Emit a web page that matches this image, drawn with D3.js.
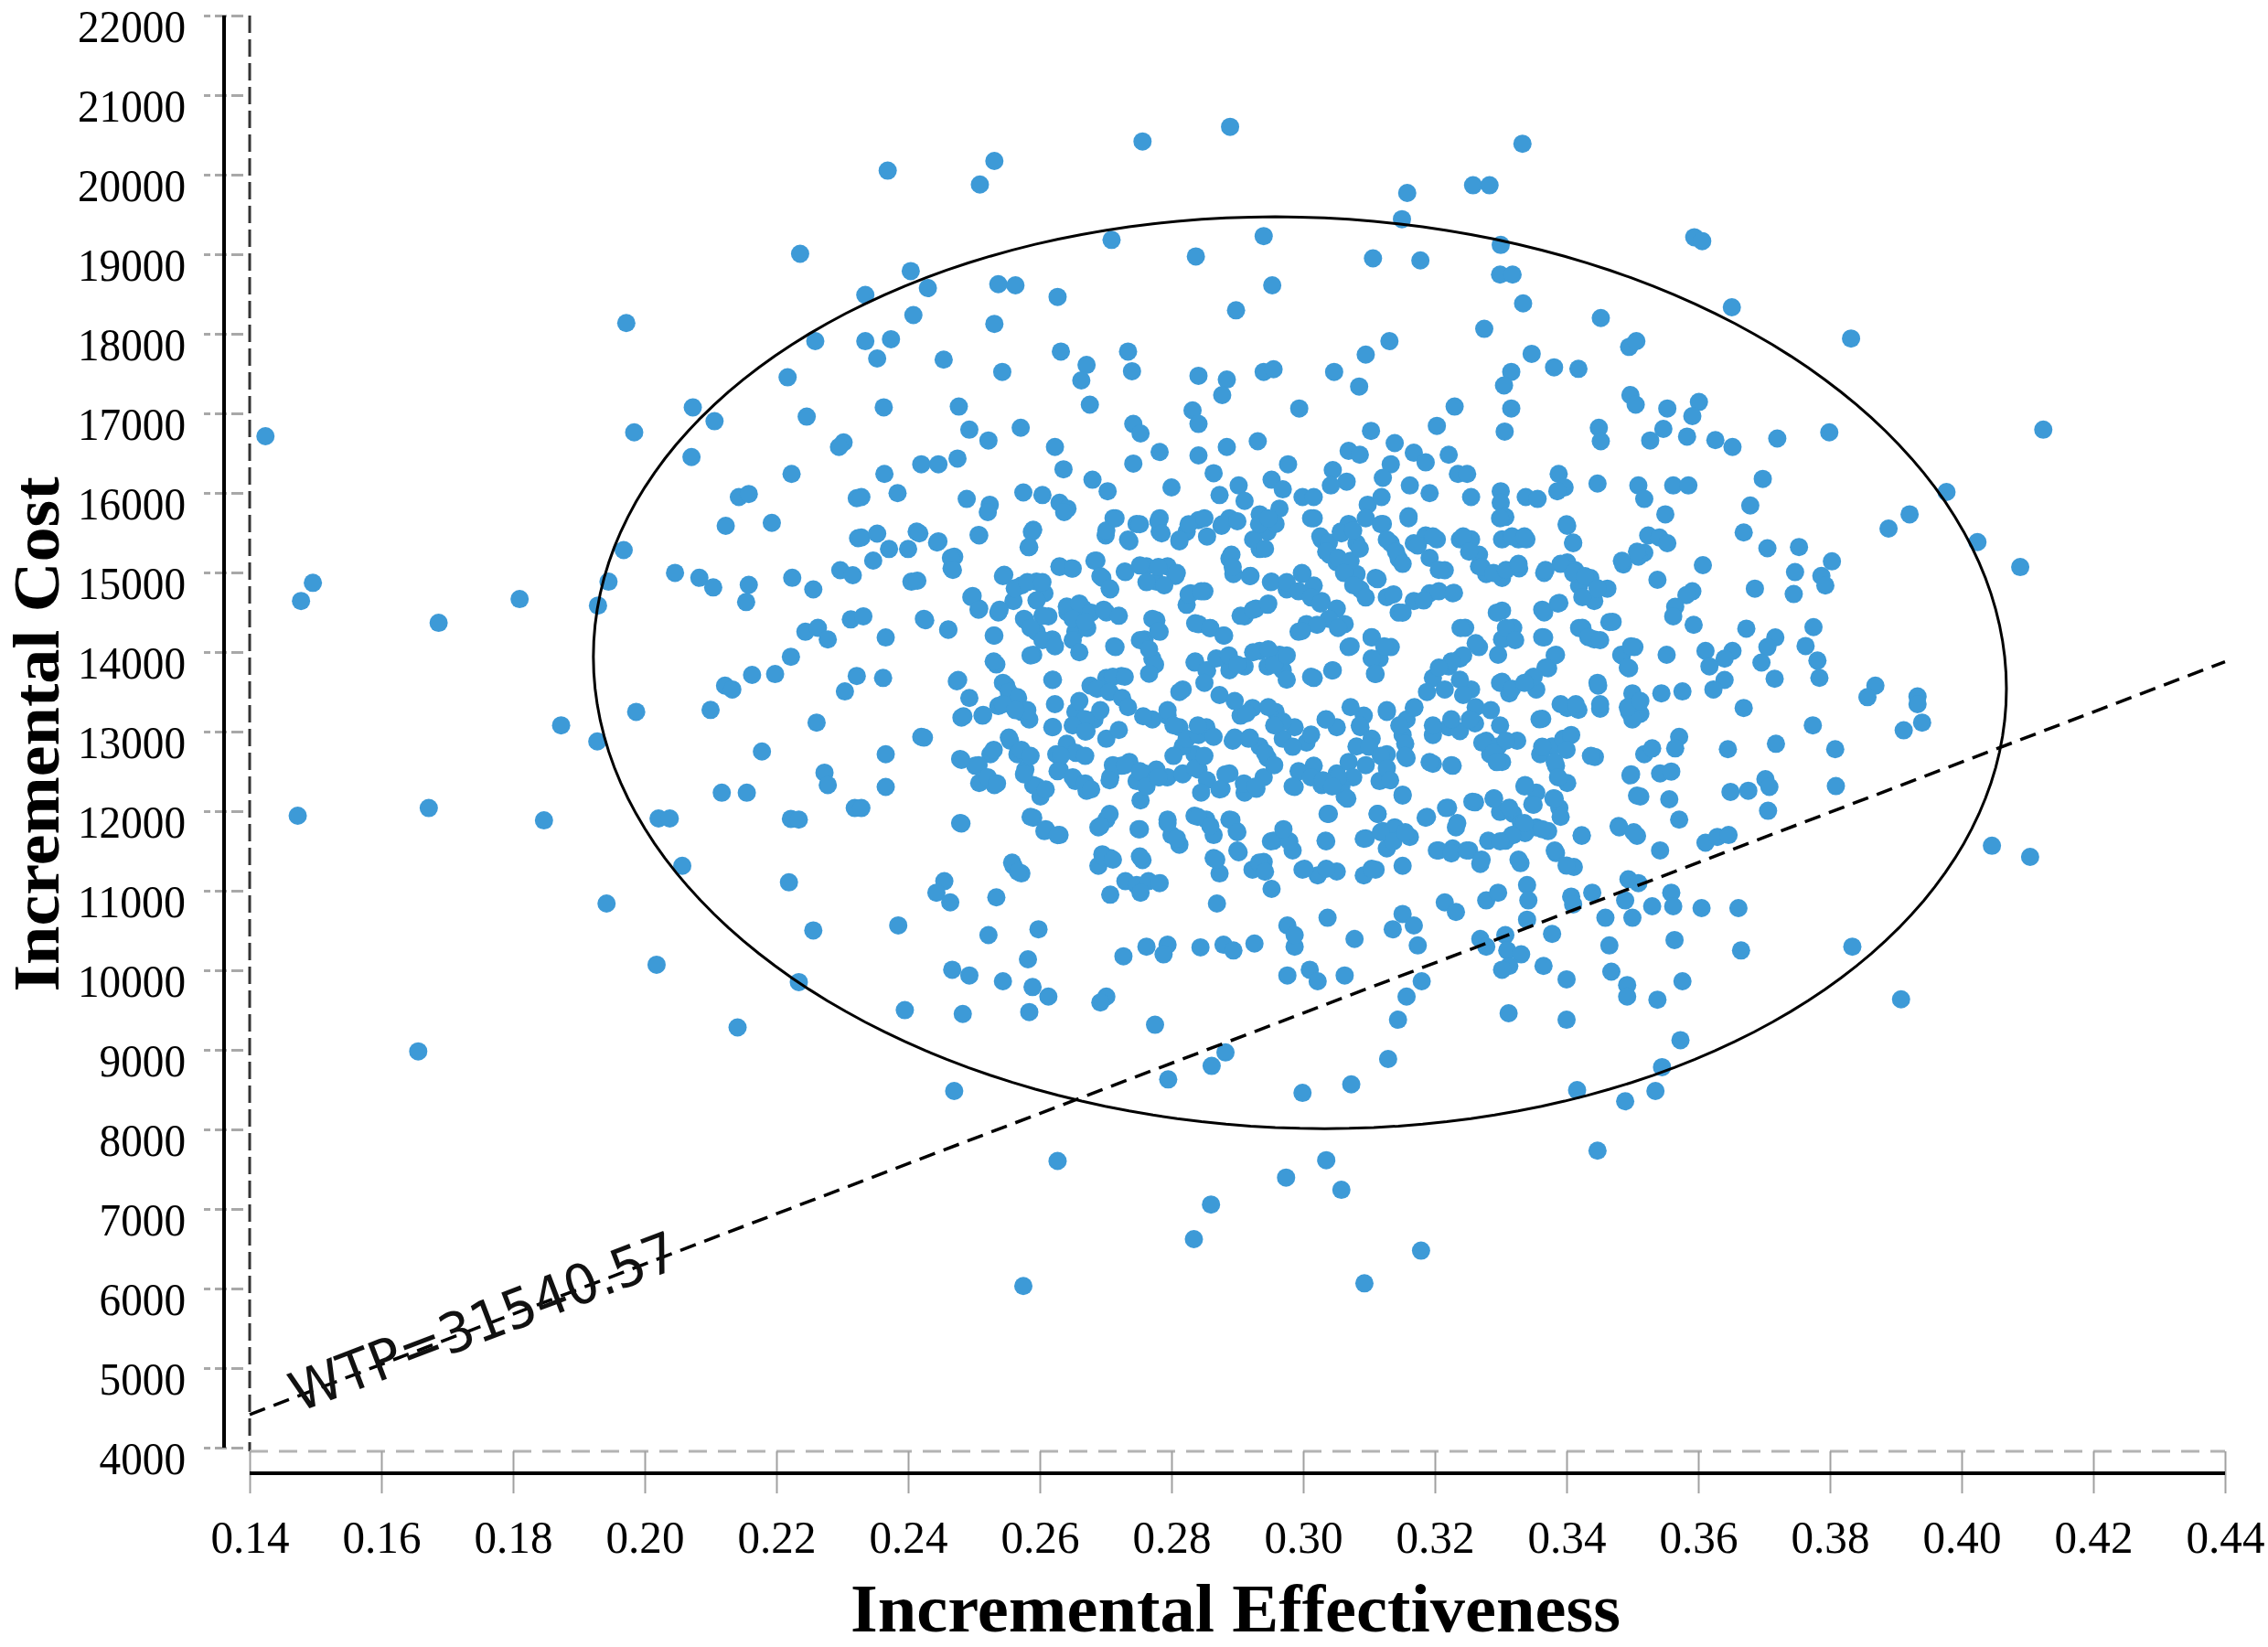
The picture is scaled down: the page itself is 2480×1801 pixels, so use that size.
<!DOCTYPE html>
<html><head><meta charset="utf-8">
<script src="https://cdn.jsdelivr.net/npm/d3@7/dist/d3.min.js"></script>
<style>html,body{margin:0;padding:0;background:#fff;}svg{display:block;}</style>
</head><body>
<svg id="chart" width="2480" height="1801"></svg>
<script>
// ---------- data ----------
const xTickValues = [0.14,0.16,0.18,0.20,0.22,0.24,0.26,0.28,0.30,0.32,0.34,0.36,0.38,0.40,0.42,0.44];
const yTickValues = [4000,5000,6000,7000,8000,9000,10000,11000,12000,13000,14000,15000,16000,17000,18000,19000,20000,21000,22000];
const xTitle = "Incremental Effectiveness";
const yTitle = "Incremental Cost";
const wtpValue = 31540.57;
const wtpLabel = "WTP=31540.57";
const wtpLabelAt = 0.1757;
const ellipseCenter = [0.2995, 13740];
const ellipseRadii = [0.1073, 5730];
const ellipseRho = -0.035;

const pointsLeft = [[0.1424,16713],[0.1496,14870],[0.1478,14642],[0.1687,14367],[0.1810,14666],[0.1972,18135],[0.1984,16761],[0.2236,19006],[0.2259,17908],[0.2217,17453],[0.2073,17075],[0.2106,16901],[0.2246,16959],[0.2302,16635],[0.2295,16577],[0.2071,16451],[0.2223,16239],[0.2143,15948],[0.2158,15987],[0.2123,15586],[0.2193,15624],[0.2322,15934],[0.2324,15431],[0.1968,15281],[0.1945,14884],[0.1929,14584],[0.2046,14995],[0.2083,14933],[0.2104,14812],[0.2158,14845],[0.2154,14628],[0.2224,14933],[0.2256,14787],[0.2297,15029],[0.2316,14966],[0.2313,14410],[0.2244,14255],[0.2263,14304],[0.2278,14158],[0.2222,13941],[0.2163,13713],[0.2198,13723],[0.2122,13578],[0.2133,13530],[0.2304,13505],[0.2322,13699],
[0.1473,11942],[0.1672,12039],[0.1656,8981],[0.1873,13079],[0.1928,12876],[0.1987,13248],[0.2100,13272],[0.2261,13113],[0.2178,12750],[0.2273,12484],[0.2278,12329],[0.2117,12232],[0.2155,12232],[0.2319,12039],[0.1847,11884],[0.2021,11908],[0.2038,11908],[0.2222,11903],[0.2234,11894],[0.2057,11313],[0.1942,10839],[0.2219,11105],[0.2256,10501],[0.2018,10070],[0.2234,9852],[0.2141,9281]];

const pointsUpperMid = [[0.2369,20051],[0.2531,20172],[0.2509,19876],[0.2756,20418],[0.2889,20602],[0.3158,19770],[0.3150,19441],[0.2709,19180],[0.2940,19228],[0.2837,18972],[0.3106,18948],[0.3178,18923],[0.2404,18788],[0.2430,18575],[0.2335,18488],[0.2537,18623],[0.2563,18609],[0.2627,18464],[0.2953,18609],[0.2898,18295],[0.2408,18236],[0.2531,18125],[0.2335,17907],[0.2374,17932],[0.2353,17690],[0.2454,17675],[0.2543,17521],[0.2632,17777],[0.2671,17608],[0.2663,17414],[0.2734,17777],[0.2740,17530],[0.2676,17109],[0.2841,17472],[0.2884,17424],[0.2877,17230],[0.2940,17521],[0.2955,17555],[0.3047,17521],[0.3095,17738],[0.3131,17908],[0.3085,17337],[0.2994,17061],[0.2363,17076],[0.2477,17085],[0.2493,16795],[0.2522,16659],[0.2571,16819],[0.2623,16577],[0.2636,16297],[0.2742,16867],[0.2753,16747],[0.2742,16369],[0.2782,16514],[0.2832,17037],[0.2841,16867],[0.2841,16471],[0.2884,16577],[0.2931,16650],[0.2977,16360],[0.3103,16780],[0.3139,16626],[0.3203,16843],[0.3230,17085],[0.3069,16529],[0.3086,16480],[0.3168,16505],[0.3186,16384],[0.3045,16287],[0.3066,16142],[0.3133,16360],[0.3121,16190],[0.3221,16480],[0.3235,16239],[0.3192,15997],[0.3162,16094],[0.3098,15852],[0.3119,15948],[0.3042,16094],[0.2952,16166],[0.2969,16045],[0.2999,15948],[0.3016,15948],[0.3016,15682],[0.3160,15707],[0.2420,16360],[0.2446,16360],[0.2475,16432],[0.2364,16239],[0.2384,15997],[0.2329,15948],[0.2489,15924],[0.2524,15852],[0.2575,16006],[0.2604,15973],[0.2630,15876],[0.2642,15803],[0.2680,16166],[0.2703,16021],[0.2800,16069],[0.2864,16248],[0.2873,15973],[0.2902,16094],[0.2911,15900],[0.2712,15682],[0.2700,15465],[0.2747,15610],[0.2736,15392],[0.2782,15682],[0.2782,15513],[0.2823,15513],[0.2841,15658],[0.2812,15392],[0.2876,15586],[0.2888,15682],[0.2934,15731],[0.2946,15513],[0.2934,15295],[0.2964,15803],[0.2958,15610],[0.3028,15416],[0.3040,15223],[0.3057,15513],[0.3069,15610],[0.3081,15368],[0.3051,15126],[0.3081,14981],[0.3087,14787],[0.3121,15610],[0.3133,15368],[0.3145,15174],[0.3168,15368],[0.3186,15465],[0.3203,15416],[0.3215,15029],[0.3238,15416],[0.2329,15440],[0.2353,15489],[0.2371,15295],[0.2347,15150],[0.2400,15295],[0.2413,15513],[0.2446,15392],[0.2470,15198],[0.2466,15053],[0.2508,15465],[0.2590,15537],[0.2584,15319],[0.2405,14884],[0.2332,14449],[0.2426,14400],[0.2461,14279],[0.2366,14183],[0.2546,14971],[0.2630,15077],[0.2648,15053],[0.2686,15150],[0.2695,14932],[0.2707,14787],[0.2730,15005],[0.2762,15077],[0.2777,14884],[0.2794,15077],[0.2806,14957],[0.2829,14739],[0.2850,14763],[0.2823,14594],[0.2888,15174],[0.2894,14981],[0.2920,14957],[0.2952,14884],[0.2975,14787],[0.2999,14981],[0.3016,14836],[0.3028,14642],[0.3051,14545],[0.3063,14352],[0.3110,14932],[0.3127,14691],[0.3145,14497],[0.3168,14642],[0.3192,14739],[0.3227,14739],[0.2496,14691],[0.2508,14545],[0.2537,14497],[0.2560,14642],[0.2572,14836],[0.2595,14884],[0.2607,14739],[0.2578,14400],[0.2595,14255],[0.2590,13965],[0.2613,14449],[0.2619,14159],[0.2642,14497],[0.2654,14255],[0.2666,14545],[0.2672,14303],[0.2701,14497],[0.2715,14062],[0.2759,14159],[0.2777,14400],[0.2771,13917],[0.2782,14255],[0.2531,14207],[0.2534,13844],[0.2841,14352],[0.2858,14303],[0.2879,14207],[0.2911,14449],[0.2928,14545],[0.2946,14594],[0.2993,14255],[0.3005,14352],[0.3069,14062],[0.3104,14183],[0.3133,14062],[0.3116,13917],[0.3221,13820],[0.3238,13917],[0.2835,13868],[0.2853,13771],[0.2882,13917],[0.2888,13771],[0.2911,13820],[0.2934,14014],[0.2946,13820],[0.2964,13965],[0.2969,13771],[0.3016,13674],[0.3045,13771],[0.3110,13723],[0.3197,13674],[0.3215,13530],[0.2476,13650],[0.2619,13650],[0.2362,13674],[0.2677,13578],[0.2701,13674],[0.2724,13699],[0.2817,13530],[0.2549,13578],[0.2566,13433]];

const pointsUpperRight = [[0.3333,20389],[0.3258,19867],[0.3283,19867],[0.3594,19214],[0.3606,19165],[0.3300,19117],[0.3299,18744],[0.3318,18744],[0.3334,18382],[0.3452,18198],[0.3275,18062],[0.3651,18333],[0.3832,17941],[0.3495,17835],[0.3506,17908],[0.3347,17748],[0.3381,17579],[0.3418,17559],[0.3316,17521],[0.3305,17351],[0.3316,17061],[0.3306,16771],[0.3497,17230],[0.3505,17109],[0.3553,17061],[0.3547,16804],[0.3601,17143],[0.3591,16965],[0.3527,16659],[0.3583,16708],[0.3626,16664],[0.3652,16577],[0.3720,16684],[0.3799,16761],[0.4124,16795],[0.3449,16819],[0.3452,16650],[0.3249,16239],[0.3255,15948],[0.3300,16021],[0.3300,15876],[0.3307,15697],[0.3338,15948],[0.3356,15924],[0.3388,16239],[0.3397,16069],[0.3386,16021],[0.3447,16118],[0.3509,16094],[0.3518,15924],[0.3562,16094],[0.3585,16094],[0.3698,16176],[0.3679,15842],[0.3550,15731],[0.3669,15503],[0.3977,16011],[0.3921,15731],[0.3889,15552],[0.4024,15382],[0.4089,15068],[0.3705,15305],[0.3753,15320],[0.3803,15140],[0.3747,15005],[0.3745,14729],[0.3787,14957],[0.3793,14836],[0.3686,14797],[0.3775,14313],[0.3763,14076],[0.3781,13893],[0.3784,13675],[0.3716,13665],[0.3673,14294],[0.3717,14183],[0.3705,14062],[0.3696,13868],[0.3652,14014],[0.3640,13917],[0.3611,14014],[0.3617,13820],[0.3640,13650],[0.3623,13530],[0.3607,15092],[0.3591,14763],[0.3582,14715],[0.3565,14569],[0.3562,14449],[0.3593,14342],[0.3552,13965],[0.3538,14908],[0.3486,15102],[0.3524,15465],[0.3541,15440],[0.3553,15368],[0.3518,15247],[0.3509,15198],[0.3465,14376],[0.3483,13965],[0.3495,13796],[0.3503,14062],[0.3448,13578],[0.3424,14304],[0.3442,14159],[0.3401,15586],[0.3410,15368],[0.3401,15126],[0.3413,15029],[0.3419,14836],[0.3436,14932],[0.3442,14642],[0.3424,14691],[0.3462,14797],[0.3366,14995],[0.3328,15053],[0.3302,14932],[0.3278,14981],[0.3267,15078],[0.3302,15416],[0.3327,15416],[0.3339,15416],[0.3255,15416],[0.3267,15223],[0.3389,14618],[0.3366,14497],[0.3302,14521],[0.3319,14304],[0.3302,14159],[0.3296,13965],[0.3267,14062],[0.3366,14183],[0.3384,13965],[0.3372,13796],[0.3348,13674],[0.3354,13530],[0.3302,13626],[0.3313,13481],[0.3246,14304],[0.3255,13530],[0.3500,13481],[0.3544,13481],[0.3576,13505],[0.3869,13578],[0.3857,13433],[0.3933,13442]];

const pointsLowerMid = [[0.2420,12934],[0.2366,12716],[0.2366,12305],[0.2329,12039],[0.2481,13176],[0.2513,13200],[0.2481,12644],[0.2502,12571],[0.2525,12716],[0.2508,12353],[0.2531,12329],[0.2555,12885],[0.2566,12716],[0.2578,12523],[0.2590,12329],[0.2601,12184],[0.2537,13321],[0.2572,13248],[0.2584,13152],[0.2619,13055],[0.2625,12716],[0.2630,12523],[0.2654,12378],[0.2671,12257],[0.2654,13248],[0.2671,13007],[0.2683,13152],[0.2701,12910],[0.2707,12426],[0.2724,12571],[0.2736,12619],[0.2747,12378],[0.2759,12474],[0.2753,12136],[0.2777,12523],[0.2794,12426],[0.2817,12474],[0.2841,12523],[0.2835,12716],[0.2817,12813],[0.2771,13152],[0.2794,13200],[0.2812,13055],[0.2823,12910],[0.2841,12958],[0.2853,13055],[0.2864,12934],[0.2876,12281],[0.2888,12474],[0.2905,13200],[0.2923,13297],[0.2893,12885],[0.2917,12910],[0.2934,12813],[0.2946,12668],[0.2940,12426],[0.2929,12281],[0.2911,12233],[0.2969,12910],[0.2987,13055],[0.3005,12862],[0.3016,12571],[0.2987,12305],[0.2958,13248],[0.2969,13127],[0.3028,12329],[0.3051,12474],[0.3069,12619],[0.3081,12813],[0.3087,13055],[0.3092,13200],[0.3104,12910],[0.3063,12184],[0.3034,13152],[0.3051,13055],[0.3127,13248],[0.3157,13152],[0.3168,13297],[0.3127,12716],[0.3151,12958],[0.3157,12668],[0.3197,12958],[0.3221,13055],[0.3238,13007],[0.3197,12595],[0.3227,12571],[0.3116,12378],[0.3151,12208],[0.2481,11845],[0.2590,11918],[0.2607,11749],[0.2630,11700],[0.2701,11894],[0.2689,11797],[0.2752,11773],[0.2794,11894],[0.2800,11700],[0.2812,11579],[0.2835,11942],[0.2853,11894],[0.2864,11700],[0.2888,11894],[0.2899,11749],[0.2955,11628],[0.2984,11507],[0.3037,11966],[0.3113,11966],[0.3034,11628],[0.3092,11652],[0.3121,11749],[0.3139,11797],[0.3162,11676],[0.3127,11531],[0.3186,11918],[0.3217,12039],[0.3232,11797],[0.3203,11507],[0.3227,11531],[0.3151,11313],[0.3110,11265],[0.3092,11192],[0.2999,11265],[0.3022,11192],[0.3051,11241],[0.2952,11023],[0.2902,11483],[0.2923,11265],[0.2940,11362],[0.2864,11410],[0.2873,11217],[0.2869,10839],[0.2695,11458],[0.2689,11313],[0.2707,11410],[0.2756,11386],[0.2730,11120],[0.2747,11071],[0.2765,11120],[0.2782,11096],[0.2753,10975],[0.2707,10950],[0.2560,11313],[0.2572,11217],[0.2455,11120],[0.2443,10975],[0.2464,10854],[0.2534,10917],[0.2385,10564],[0.2522,10442],[0.2598,10515],[0.2582,10138],[0.2467,10007],[0.2493,9935],[0.2544,9862],[0.2589,9789],[0.2613,9669],[0.2584,9475],[0.2395,9499],[0.2483,9451],[0.2701,9669],[0.2692,9596],[0.2727,10176],[0.2762,10297],[0.2794,10321],[0.2788,10200],[0.2844,10288],[0.2879,10321],[0.2894,10249],[0.2926,10336],[0.2976,10563],[0.2987,10297],[0.2987,10442],[0.3037,10660],[0.3078,10394],[0.2976,9935],[0.3010,10007],[0.3022,9862],[0.3063,9935],[0.3151,10708],[0.3168,10563],[0.3136,10515],[0.3174,10312],[0.3215,10854],[0.3232,10733],[0.3180,9862],[0.3157,9669],[0.3144,9378],[0.3129,8885],[0.2775,9315],[0.2882,8967],[0.2861,8798],[0.2795,8628],[0.2470,8483],[0.2999,8459],[0.3073,8566],[0.2627,7603],[0.3035,7613],[0.2974,7395],[0.3058,7240],[0.2860,7056],[0.2834,6621],[0.3179,6476],[0.2575,6031],[0.3093,6065]];

const pointsLowerRight = [[0.3363,13161],[0.3401,13297],[0.3418,13273],[0.3451,13287],[0.3495,13248],[0.3512,13224],[0.3500,13152],[0.3669,13297],[0.3774,13079],[0.3912,13016],[0.3940,13113],[0.3933,13345],[0.3645,12779],[0.3718,12847],[0.3808,12779],[0.3809,12315],[0.3261,13103],[0.3278,12885],[0.3296,12813],[0.3302,12619],[0.3284,12716],[0.3272,12861],[0.3325,12885],[0.3360,12716],[0.3378,12813],[0.3395,12910],[0.3407,12958],[0.3384,12571],[0.3443,12682],[0.3497,12450],[0.3518,12716],[0.3530,12789],[0.3571,12934],[0.3565,12789],[0.3542,12474],[0.3559,12498],[0.3401,12353],[0.3512,12184],[0.3556,12150],[0.3571,11894],[0.3649,12242],[0.3676,12257],[0.3702,12402],[0.3708,12305],[0.3706,12005],[0.3337,12329],[0.3354,12233],[0.3348,12087],[0.3380,12160],[0.3389,12039],[0.3261,12111],[0.3290,12160],[0.3299,11990],[0.3319,11966],[0.3331,11845],[0.3354,11797],[0.3372,11749],[0.3319,11700],[0.3307,11628],[0.3337,11724],[0.3281,11628],[0.3252,11507],[0.3269,11337],[0.3330,11347],[0.3384,11473],[0.3411,11299],[0.3423,11690],[0.3480,11797],[0.3507,11690],[0.3542,11507],[0.3611,11603],[0.3629,11676],[0.3646,11700],[0.4046,11565],[0.4104,11425],[0.3278,10878],[0.3296,10975],[0.3340,11071],[0.3342,10878],[0.3340,10636],[0.3407,10926],[0.3410,10829],[0.3439,10975],[0.3494,11144],[0.3509,11096],[0.3489,10878],[0.3459,10660],[0.3500,10660],[0.3530,10805],[0.3559,10975],[0.3562,10805],[0.3605,10781],[0.3661,10781],[0.3269,10394],[0.3278,10297],[0.3307,10442],[0.3310,10249],[0.3331,10200],[0.3313,10055],[0.3302,10007],[0.3378,10457],[0.3365,10055],[0.3400,9886],[0.3465,10312],[0.3468,9983],[0.3492,9814],[0.3492,9669],[0.3538,9630],[0.3576,9862],[0.3564,10380],[0.3665,10249],[0.3834,10297],[0.3908,9635],[0.3312,9460],[0.3400,9378],[0.3573,9122],[0.3545,8783],[0.3416,8493],[0.3535,8483],[0.3489,8353],[0.3447,7733]];

const pointsCoreWest = [[0.2521,15759],[0.2637,15759],[0.2417,15491],[0.2444,15376],[0.2507,15472],[0.2588,15510],[0.2583,15318],[0.2701,15529],[0.2715,15682],[0.2734,15414],[0.2752,15606],[0.2780,15644],[0.2785,15491],[0.2812,15414],[0.2826,15606],[0.2850,15682],[0.2854,15452],[0.2877,15606],[0.2900,15644],[0.2924,15414],[0.2933,15606],[0.2947,15682],[0.2465,15184],[0.2468,15031],[0.2544,14954],[0.2630,15069],[0.2650,15050],[0.2683,15146],[0.2692,14954],[0.2706,14801],[0.2729,15012],[0.2752,15088],[0.2762,14878],[0.2780,15069],[0.2789,14839],[0.2808,14993],[0.2826,14725],[0.2845,14763],[0.2891,15223],[0.2893,15069],[0.2919,14954],[0.2942,15299],[0.2951,14878],[0.2414,14897],[0.2498,14705],[0.2507,14533],[0.2539,14533],[0.2562,14801],[0.2581,14878],[0.2604,14878],[0.2576,14418],[0.2595,14648],[0.2604,14456],[0.2641,14571],[0.2660,14610],[0.2678,14495],[0.2697,14533],[0.2720,14456],[0.2650,14418],[0.2669,14380],[0.2771,14418],[0.2780,14265],[0.2836,14361],[0.2859,14303],[0.2880,14207],[0.2905,14456],[0.2924,14533],[0.2947,14610],[0.2424,14418],[0.2461,14284],[0.2530,14207],[0.2586,14303],[0.2586,13958],[0.2604,14150],[0.2623,14073],[0.2650,14150],[0.2660,13997],[0.2713,14073],[0.2752,14150],[0.2766,14035],[0.2775,13843],[0.2766,13728],[0.2530,13882],[0.2836,13882],[0.2854,13767],[0.2868,13920],[0.2887,13958],[0.2900,13843],[0.2924,13997],[0.2947,14035],[0.2956,13843],[0.2474,13633],[0.2620,13652],[0.2544,13613],[0.2711,13690],[0.2729,13690],[0.2553,13498],[0.2567,13422],[0.2581,13269],[0.2544,13345],[0.2563,13269],[0.2493,13422],[0.2484,13192],[0.2514,13211],[0.2623,13345],[0.2620,13058],[0.2660,13384],[0.2669,13154],[0.2687,13537],[0.2706,13498],[0.2725,13422],[0.2692,13269],[0.2734,13307],[0.2757,13192],[0.2794,13269],[0.2812,13498],[0.2803,13077],[0.2850,13613],[0.2873,13460],[0.2896,13384],[0.2914,13230],[0.2947,13307],[0.2956,13077],[0.2840,13077],[0.2720,13020],[0.2650,13077],[0.2669,13000],[0.2424,12924],[0.2553,12924],[0.2572,12771],[0.2586,12694],[0.2530,12771],[0.2479,12656],[0.2507,12579],[0.2521,12426],[0.2535,12349],[0.2576,12464],[0.2595,12311],[0.2609,12273],[0.2641,12847],[0.2655,12732],[0.2632,12694],[0.2669,12694],[0.2627,12502],[0.2650,12426],[0.2669,12349],[0.2678,12273],[0.2711,12579],[0.2729,12579],[0.2706,12388],[0.2752,12502],[0.2762,12311],[0.2780,12426],[0.2803,12694],[0.2817,12464],[0.2836,12541],[0.2850,12694],[0.2854,12388],[0.2845,12234],[0.2896,12924],[0.2919,12924],[0.2882,12464],[0.2873,12273],[0.2910,12349],[0.2928,12311],[0.2942,12732],[0.2956,12579],[0.2479,11851],[0.2586,11928],[0.2609,11774],[0.2627,11698],[0.2706,11966],[0.2692,11813],[0.2750,11774],[0.2794,11851],[0.2808,11659],[0.2840,11928],[0.2859,11813],[0.2891,11889],[0.2900,11736],[0.2951,11621],[0.2697,11430],[0.2711,11391],[0.2752,11430],[0.2558,11353],[0.2567,11238],[0.2868,11391],[0.2900,11506],[0.2933,11353],[0.2942,11238]];

const pointsCoreEast = [[0.3012,15682],[0.3026,15453],[0.3039,15376],[0.3058,15491],[0.3076,15529],[0.3035,15261],[0.3053,15184],[0.3072,15146],[0.3086,15299],[0.3095,15682],[0.3118,15606],[0.3127,15414],[0.3141,15261],[0.3151,15108],[0.3160,15682],[0.3174,15338],[0.3197,15453],[0.3192,15184],[0.3206,15031],[0.3243,15453],[0.3252,15261],[0.3271,15069],[0.3289,14993],[0.3308,15031],[0.3299,15682],[0.3317,15453],[0.3336,15453],[0.3327,15108],[0.3400,15606],[0.3410,15376],[0.3391,15108],[0.3410,14993],[0.3428,14954],[0.3447,14801],[0.3484,15146],[0.3507,15261],[0.3368,15031],[0.2975,14878],[0.2998,14993],[0.2993,14763],[0.3012,14686],[0.3026,14610],[0.3039,14418],[0.3053,14303],[0.3072,14073],[0.3021,14342],[0.2998,14265],[0.3062,14993],[0.3076,14840],[0.3095,14686],[0.3113,14916],[0.3137,14725],[0.3151,14495],[0.3183,14648],[0.3206,14763],[0.3229,14744],[0.3104,14188],[0.3123,14073],[0.3104,13920],[0.3109,13728],[0.3012,13690],[0.3044,13767],[0.2975,13958],[0.2975,13652],[0.3239,14303],[0.3294,14495],[0.3308,14303],[0.3322,14150],[0.3262,14112],[0.3243,13958],[0.3225,13882],[0.3206,13805],[0.3363,14533],[0.3387,14610],[0.3419,14303],[0.3433,14188],[0.3451,14150],[0.3470,14380],[0.3363,14188],[0.3382,13958],[0.3368,13805],[0.3350,13690],[0.3484,13958],[0.3498,14073],[0.3493,13805],[0.3447,13613],[0.3451,13345],[0.3391,13345],[0.3414,13345],[0.3359,13154],[0.3493,13307],[0.3512,13384],[0.3299,13613],[0.3317,13537],[0.3336,13613],[0.3238,13652],[0.3243,13460],[0.3262,13307],[0.3285,13269],[0.3299,13077],[0.3308,12886],[0.3289,12732],[0.3294,12617],[0.3188,13498],[0.3169,13307],[0.3197,13077],[0.3225,13154],[0.3253,13154],[0.3127,13269],[0.3146,13077],[0.3155,12847],[0.3155,12694],[0.3072,13307],[0.3086,13077],[0.3100,12809],[0.3095,12579],[0.3076,12426],[0.3058,12311],[0.3067,12157],[0.3053,12426],[0.3118,12694],[0.3127,12541],[0.3132,12388],[0.3035,13154],[0.3012,12962],[0.2984,12809],[0.2993,12502],[0.3012,12426],[0.3030,12388],[0.3044,12311],[0.2984,12311],[0.3192,12617],[0.3225,12579],[0.3363,12809],[0.3382,12617],[0.3400,12771],[0.3387,12426],[0.3437,12694],[0.3498,12464],[0.3507,12196],[0.3151,12196],[0.3113,11966],[0.3039,11966],[0.3188,11928],[0.3220,12043],[0.3234,11851],[0.3257,12119],[0.3289,12157],[0.3313,12043],[0.3336,12311],[0.3350,12081],[0.3363,11774],[0.3336,11851],[0.3317,11698],[0.3299,11621],[0.3382,12157],[0.3391,11928],[0.3423,11698],[0.3479,11813],[0.3502,11736],[0.2979,11621],[0.2970,11774],[0.3035,11621],[0.3095,11659],[0.3118,11736],[0.3137,11621],[0.3155,11736],[0.3206,11506],[0.3225,11468],[0.3248,11506],[0.3271,11391],[0.3327,11391],[0.3382,11506],[0.3400,11315],[0.3002,11276],[0.3035,11276],[0.3104,11276]];

const points = [].concat(pointsLeft, pointsUpperMid, pointsUpperRight, pointsLowerMid, pointsLowerRight, pointsCoreWest, pointsCoreEast);

// ---------- chart ----------
const svg = d3.select("#chart");
const x = d3.scaleLinear().domain([0.14, 0.44]).range([273, 2433]);
const y = d3.scaleLinear().domain([4000, 22000]).range([1583, 17]);
const serif = "'Liberation Serif','Times New Roman',serif";

// vertical dashed line at x = 0.14
svg.append("line")
  .attr("x1", x(0.14)).attr("x2", x(0.14))
  .attr("y1", y(22000)).attr("y2", y(4000) + 4)
  .attr("stroke", "#333").attr("stroke-width", 3).attr("stroke-dasharray", "19,7");

// gray dashed baseline
svg.append("line")
  .attr("x1", x(0.14)).attr("x2", x(0.44))
  .attr("y1", y(4000) + 4).attr("y2", y(4000) + 4)
  .attr("stroke", "#b3b3b3").attr("stroke-width", 3).attr("stroke-dasharray", "20,12");

// x axis: labels + gray ticks
const xAxis = d3.axisBottom(x).tickValues(xTickValues).tickFormat(d3.format(".2f"))
  .tickSizeInner(46).tickSizeOuter(0).tickPadding(29);
const gx = svg.append("g").attr("transform", `translate(0,${y(4000) + 4})`).call(xAxis);
gx.select(".domain").remove();
gx.selectAll(".tick line").attr("stroke", "#a0a0a0").attr("stroke-width", 2);
gx.selectAll(".tick text").attr("font-family", serif).attr("font-size", 50).attr("fill", "#000")
  .attr("textLength", 86).attr("lengthAdjust", "spacingAndGlyphs");

// solid x axis line
svg.append("line")
  .attr("x1", x(0.14)).attr("x2", x(0.44))
  .attr("y1", 1611).attr("y2", 1611)
  .attr("stroke", "#000").attr("stroke-width", 4);

// y axis: labels + gray dashed ticks
const yAxis = d3.axisLeft(y).tickValues(yTickValues).tickFormat(d3.format("d"))
  .tickSizeInner(43).tickSizeOuter(0).tickPadding(20);
const gy = svg.append("g").attr("transform", `translate(266,0)`).call(yAxis);
gy.select(".domain").remove();
gy.selectAll(".tick line").attr("stroke", "#a8a8a8").attr("stroke-width", 3).attr("stroke-dasharray", "13,5");
gy.selectAll(".tick text").attr("font-family", serif).attr("font-size", 50).attr("fill", "#000")
  .attr("dy", "0.56em")
  .attr("textLength", d => String(d).length * 23.6).attr("lengthAdjust", "spacingAndGlyphs");

// solid y axis line
svg.append("line")
  .attr("x1", 245).attr("x2", 245)
  .attr("y1", y(22000)).attr("y2", y(4000))
  .attr("stroke", "#000").attr("stroke-width", 4);

// scatter points
svg.append("g").selectAll("circle").data(points).join("circle")
  .attr("cx", d => x(d[0])).attr("cy", d => y(d[1])).attr("r", 10)
  .attr("fill", "#3d9ad7");

// confidence ellipse
const tSteps = d3.range(0, 361, 2).map(a => a * Math.PI / 180);
const ellipsePts = tSteps.map(t => [
  ellipseCenter[0] + ellipseRadii[0] * Math.cos(t),
  ellipseCenter[1] + ellipseRadii[1] * (ellipseRho * Math.cos(t) + Math.sqrt(1 - ellipseRho * ellipseRho) * Math.sin(t))
]);
svg.append("path")
  .attr("d", d3.line().x(d => x(d[0])).y(d => y(d[1])).curve(d3.curveLinearClosed)(ellipsePts))
  .attr("fill", "none").attr("stroke", "#000").attr("stroke-width", 3);

// WTP line
const wtpPts = [[0.14, 0.14 * wtpValue], [0.44, 0.44 * wtpValue]];
svg.append("path")
  .attr("d", d3.line().x(d => x(d[0])).y(d => y(d[1]))(wtpPts))
  .attr("fill", "none").attr("stroke", "#000").attr("stroke-width", 3.5).attr("stroke-dasharray", "18,10");

const ang = Math.atan2(y(wtpPts[1][1]) - y(wtpPts[0][1]), x(wtpPts[1][0]) - x(wtpPts[0][0])) * 180 / Math.PI;
const lx = x(wtpLabelAt), ly = y(wtpLabelAt * wtpValue);
svg.append("text")
  .attr("transform", `translate(${lx},${ly}) rotate(${ang})`)
  .attr("text-anchor", "middle").attr("dominant-baseline", "central").attr("dy", -4)
  .attr("font-family", "'DejaVu Sans','Liberation Sans',sans-serif").attr("font-size", 60)
  .attr("textLength", 448).attr("lengthAdjust", "spacingAndGlyphs")
  .attr("fill", "#111")
  .text(wtpLabel);

// titles
svg.append("text")
  .attr("x", 1351).attr("y", 1784).attr("text-anchor", "middle")
  .attr("font-family", serif).attr("font-weight", "bold").attr("font-size", 75)
  .attr("textLength", 842).attr("lengthAdjust", "spacingAndGlyphs")
  .text(xTitle);

svg.append("text")
  .attr("transform", "translate(64,803) rotate(-90)").attr("text-anchor", "middle")
  .attr("font-family", serif).attr("font-weight", "bold").attr("font-size", 72)
  .attr("textLength", 563).attr("lengthAdjust", "spacingAndGlyphs")
  .text(yTitle);
</script>
</body></html>
